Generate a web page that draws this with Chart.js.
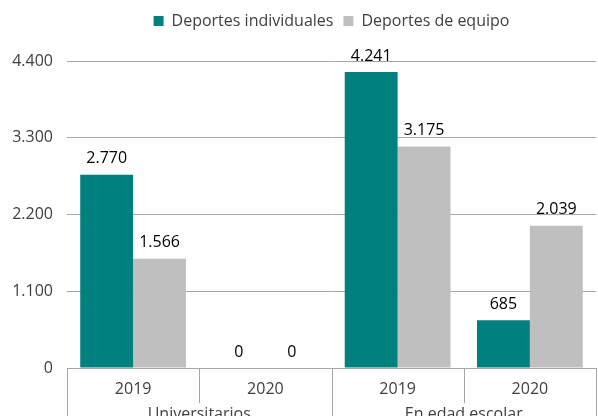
<!DOCTYPE html>
<html>
<head>
<meta charset="utf-8">
<script src="https://cdn.jsdelivr.net/npm/chart.js@4"></script>
<style>
  html, body { margin: 0; padding: 0; background: #fff; }
  #wrap { width: 598px; height: 416px; }
</style>
</head>
<body>
<div id="wrap"><canvas id="chart"></canvas></div>
<script>
// Data
const years = ["2019", "2020", "2019", "2020"];
const groups = ["Universitarios", "En edad escolar"];
const seriesNames = ["Deportes individuales", "Deportes de equipo"];
const individuales = [2770, 0, 4241, 685];
const equipo = [1566, 0, 3175, 2039];
const yTicks = [0, 1100, 2200, 3300, 4400];

const colors = ["#00807f", "#bfbfbf"];
const fontFamily = "'Open Sans', sans-serif";
const lineColor = "#a6a6a6";

// 4241 -> "4.241"
function fmt(v) {
  return String(v).replace(/\B(?=(\d{3})+(?!\d))/g, ".");
}

// extra space under the legend, and center it over the plot area
const legendTweak = {
  id: "legendTweak",
  beforeInit(chart) {
    const legend = chart.legend;
    const fit = legend.fit;
    legend.fit = function () {
      fit.bind(legend)();
      this.height += 23;
    };
    const draw = legend.draw;
    legend.draw = function () {
      const area = chart.chartArea;
      const shift = (area.left + area.right) / 2 - (legend.left + legend.right) / 2;
      legend.ctx.save();
      legend.ctx.translate(shift, 1);
      draw.call(legend);
      legend.ctx.restore();
    };
  },
};

// value labels above the bars
const barLabels = {
  id: "barLabels",
  afterDatasetsDraw(chart) {
    const ctx = chart.ctx;
    ctx.save();
    ctx.font = "16px " + fontFamily;
    ctx.fillStyle = "#000";
    ctx.textAlign = "center";
    ctx.textBaseline = "middle";
    chart.data.datasets.forEach((ds, i) => {
      chart.getDatasetMeta(i).data.forEach((bar, j) => {
        ctx.fillText(fmt(ds.data[j]), bar.x, bar.y - 16);
      });
    });
    ctx.restore();
  },
};

// two level category axis: separators + group names
const groupAxis = {
  id: "groupAxis",
  afterDraw(chart) {
    const ctx = chart.ctx;
    const x = chart.scales.x;
    const area = chart.chartArea;
    const n = years.length;
    const step = (area.right - area.left) / n;
    ctx.save();
    ctx.strokeStyle = lineColor;
    ctx.lineWidth = 1;
    for (let i = 0; i <= n; i++) {
      const px = Math.round(area.left + i * step) + 0.5;
      const long = i % 2 === 0;
      ctx.beginPath();
      ctx.moveTo(px, area.bottom);
      ctx.lineTo(px, long ? chart.height : area.bottom + 35);
      ctx.stroke();
    }
    ctx.font = "16px " + fontFamily;
    ctx.fillStyle = "#404040";
    ctx.textAlign = "center";
    ctx.textBaseline = "middle";
    groups.forEach((g, i) => {
      const cx = (x.getPixelForValue(i * 2) + x.getPixelForValue(i * 2 + 1)) / 2;
      ctx.fillText(g, cx, area.bottom + 46);
    });
    ctx.restore();
  },
};

new Chart(document.getElementById("chart"), {
  type: "bar",
  data: {
    labels: years,
    datasets: [
      { label: seriesNames[0], data: individuales, backgroundColor: colors[0] },
      { label: seriesNames[1], data: equipo, backgroundColor: colors[1] },
    ],
  },
  options: {
    responsive: true,
    maintainAspectRatio: false,
    animation: false,
    layout: { padding: { top: 2, right: 2, left: 0, bottom: 0 } },
    datasets: {
      bar: { categoryPercentage: 0.8, barPercentage: 1.0 },
    },
    plugins: {
      legend: {
        position: "top",
        labels: {
          boxWidth: 10,
          boxHeight: 10,
          padding: 10,
          color: "#404040",
          font: { family: fontFamily, size: 16 },
        },
      },
      tooltip: { enabled: false },
    },
    scales: {
      x: {
        grid: { display: false },
        border: { display: false },
        ticks: {
          padding: 4,
          color: "#404040",
          font: { family: fontFamily, size: 16 },
        },
        afterFit(scale) {
          scale.height = 48;
        },
      },
      y: {
        min: 0,
        max: 4400,
        afterBuildTicks(scale) {
          scale.ticks = yTicks.map((v) => ({ value: v }));
        },
        grid: { color: lineColor, drawTicks: false },
        border: { display: false },
        ticks: {
          padding: 14,
          color: "#404040",
          font: { family: fontFamily, size: 16 },
          callback: (v) => fmt(v),
        },
        afterFit(scale) {
          scale.width = 67;
        },
      },
    },
  },
  plugins: [legendTweak, barLabels, groupAxis],
});
</script>
</body>
</html>
